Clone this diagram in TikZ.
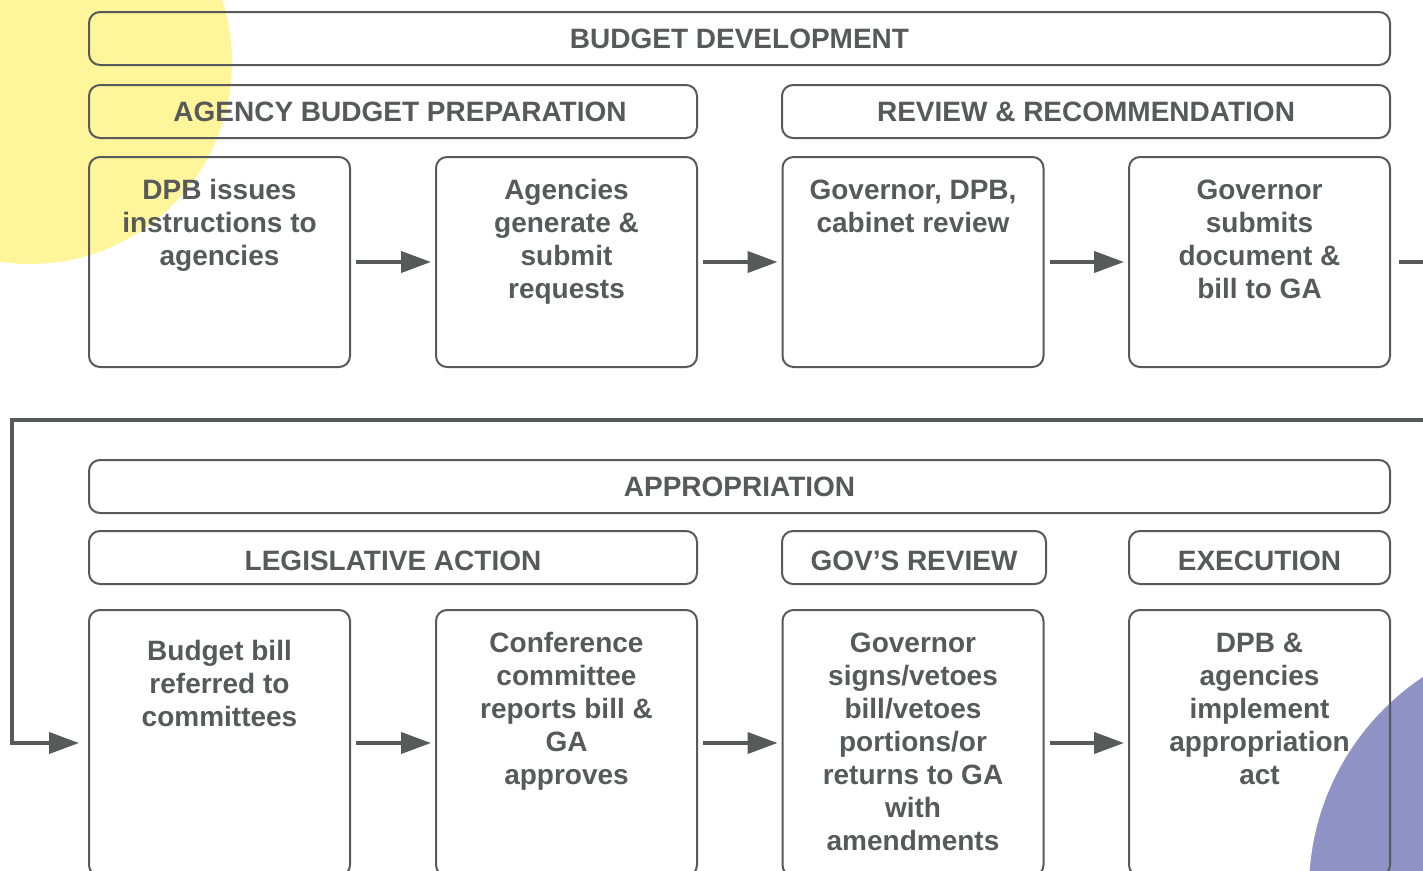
\documentclass[tikz,border=0pt]{standalone}
\usepackage{fontspec}
\setmainfont{Liberation Sans}
\usetikzlibrary{arrows.meta}
\definecolor{ink}{HTML}{58595B}
\definecolor{yel}{HTML}{FFF59B}
\definecolor{lav}{HTML}{8E92C4}
\newcommand{\lowtxt}[1]{\raisebox{-3pt}[\height][0pt]{#1}}
\tikzset{
  boxshape/.style={draw=ink, line width=2pt, rounded corners=11pt, inner sep=0pt},
  hdr/.style={boxshape, minimum height=53pt, text=ink, font=\fontsize{28}{33}\selectfont\bfseries},
  stepbox/.style={boxshape, minimum width=261pt},
  txt/.style={text=ink, align=center, inner sep=0pt, anchor=north, font=\fontsize{28}{33}\selectfont\bfseries},
  conn/.style={draw=ink, line width=4pt},
  arr/.style={conn, -{Triangle[length=30pt,width=21pt]}, shorten <=5pt, shorten >=4pt},
}
\begin{document}
\begin{tikzpicture}[x=1pt,y=-1pt]
\useasboundingbox (0,0) rectangle (1423,870);
\clip (0,0) rectangle (1423,870);
% background circles
\fill[yel] (30,62) circle[radius=202];
\fill[lav] (1565,890) circle[radius=256];
% headers
\node[hdr, minimum width=1301pt] (h0) at (739.5,38.5) {BUDGET DEVELOPMENT};
\node[hdr, minimum width=608pt] (h1) at (393,111.5) {\hspace*{14pt}AGENCY BUDGET PREPARATION};
\node[hdr, minimum width=608pt] (h2) at (1086,111.5) {REVIEW \& RECOMMENDATION};
\node[hdr, minimum width=1301pt] (h3) at (739.5,486.5) {APPROPRIATION};
\node[hdr, minimum width=608pt] (h4) at (393,557.5) {\lowtxt{LEGISLATIVE ACTION}};
\node[hdr, minimum width=264pt] (h5) at (914,557.5) {\lowtxt{GOV’S REVIEW}};
\node[hdr, minimum width=261pt] (h6) at (1259.5,557.5) {\lowtxt{EXECUTION}};
% row 1 boxes
\node[stepbox, minimum height=210pt] (a1) at (219.5,262) {};
\node[stepbox, minimum height=210pt] (a2) at (566.5,262) {};
\node[stepbox, minimum height=210pt] (a3) at (913,262) {};
\node[stepbox, minimum height=210pt] (a4) at (1259.5,262) {};
\node[txt] (a1t) at ([yshift=-20pt]a1.north) {\strut DPB issues\\instructions to\\agencies};
\node[txt] (a2t) at ([yshift=-20pt]a2.north) {\strut Agencies\\generate \&\\submit\\requests};
\node[txt] (a3t) at ([yshift=-20pt]a3.north) {\strut Governor, DPB,\\cabinet review};
\node[txt] (a4t) at ([yshift=-20pt]a4.north) {\strut Governor\\submits\\document \&\\bill to GA};
% row 2 boxes
\node[stepbox, minimum height=266pt] (b1) at (219.5,743) {};
\node[stepbox, minimum height=266pt] (b2) at (566.5,743) {};
\node[stepbox, minimum height=266pt] (b3) at (913,743) {};
\node[stepbox, minimum height=266pt] (b4) at (1259.5,743) {};
\node[txt] (b1t) at ([yshift=-28pt]b1.north) {\strut Budget bill\\referred to\\committees};
\node[txt] (b2t) at ([yshift=-20pt]b2.north) {\strut Conference\\committee\\reports bill \&\\GA\\approves};
\node[txt] (b3t) at ([yshift=-20pt]b3.north) {\strut Governor\\signs/vetoes\\bill/vetoes\\portions/or\\returns to GA\\with\\amendments};
\node[txt] (b4t) at ([yshift=-20pt]b4.north) {\strut DPB \&\\agencies\\implement\\appropriation\\act};
% arrows
\draw[arr] (a1.east) -- (a2.west);
\draw[arr] (a2.east) -- (a3.west);
\draw[arr] (a3.east) -- (a4.west);
\coordinate (offR) at (1440,262);
\draw[conn, shorten <=8pt] (a4.east) -- (offR);
\coordinate (c1) at (1440,420);
\coordinate (c2) at (12,420);
\coordinate (c3) at (12,743);
\draw[conn, -{Triangle[length=30pt,width=21pt]}, shorten >=9pt] (c1) -- (c2) -- (c3) -- (b1.west);
\draw[arr] (b1.east) -- (b2.west);
\draw[arr] (b2.east) -- (b3.west);
\draw[arr] (b3.east) -- (b4.west);
\end{tikzpicture}
\end{document}
